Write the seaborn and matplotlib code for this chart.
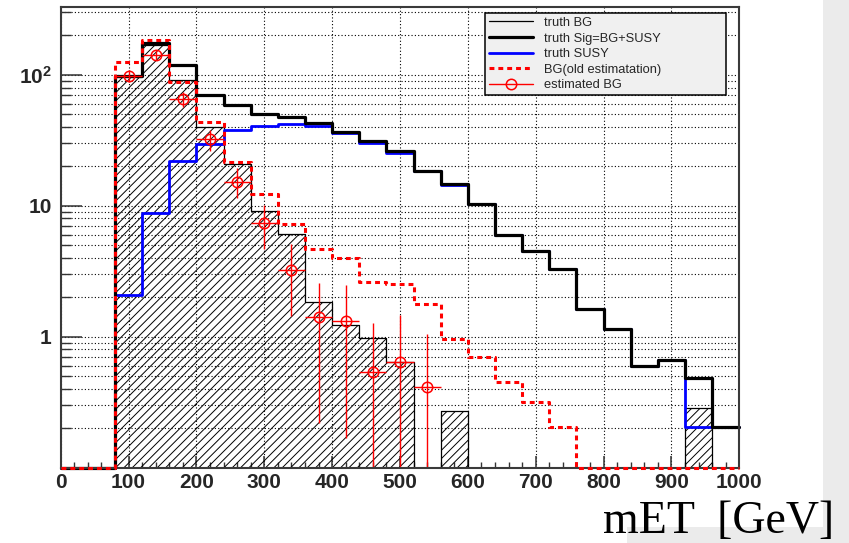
import numpy as np
import pandas as pd
import matplotlib
matplotlib.use("Agg")
import matplotlib.pyplot as plt
import seaborn as sns
from matplotlib.lines import Line2D
from matplotlib.patches import Rectangle
from matplotlib.ticker import FixedLocator, MultipleLocator, NullFormatter

# ---------------- data ----------------
bin_edges = list(range(0, 1001, 40))          # 25 bins of 40 GeV
truth_sig = [0, 0, 98, 176, 118, 69.7, 58.9, 50.3, 47.7, 42.7, 36.9, 31, 26,
             18.6, 14.8, 10.25, 5.95, 4.52, 3.28, 1.62, 1.14, 0.60, 0.67, 0.484, 0.203]
truth_susy = [0, 0, 2.08, 8.75, 22, 29.9, 38.2, 40.9, 42.2, 40.9, 35.7, 30, 25.4,
              18.6, 14.5, 10.25, 5.95, 4.52, 3.28, 1.62, 1.14, 0.60, 0.67, 0.203, 0.203]
truth_bg = [0, 0, 96, 168, 92, 40, 21, 9.1, 6.05, 1.85, 1.23, 0.97, 0.64,
            0, 0.273, 0, 0, 0, 0, 0, 0, 0, 0, 0.288, 0]
bg_old = [0, 0, 125, 183, 88, 43.7, 21.7, 12.4, 7.2, 4.65, 3.97, 2.64, 2.52,
          1.77, 0.96, 0.70, 0.45, 0.32, 0.203, 0, 0, 0, 0, 0, 0]

est_x = [100, 140, 180, 220, 260, 300, 340, 380, 420, 460, 500, 540]
est_val = [98, 142, 65.5, 32.4, 15.3, 7.34, 3.24, 1.41, 1.32, 0.536, 0.64, 0.416]
est_err_up = [10, 12, 8, 5.7, 4.0, 2.8, 1.84, 1.15, 1.16, 0.73, 0.82, 0.63]
est_err_dn = [10, 12, 8.6, 6.3, 3.8, 2.7, 1.79, 1.19, 1.15, 0.536, 0.64, 0.416]
est_xerr = 20

x_ticks = [0, 100, 200, 300, 400, 500, 600, 700, 800, 900, 1000]
y_ticks = [1, 10, 100]
y_tick_labels = ["1", "10", r"$\mathbf{10^{2}}$"]
y_minor = [0.2, 0.3, 0.4, 0.5, 0.6, 0.7, 0.8, 0.9, 2, 3, 4, 5, 6, 7, 8, 9,
           20, 30, 40, 50, 60, 70, 80, 90, 200, 300]
legend_labels = ["truth BG", "truth Sig=BG+SUSY", "truth SUSY",
                 "BG(old estimatation)", "estimated BG"]
x_label = "mET  [GeV]"

YMIN, YMAX = 0.1, 328
XMIN, XMAX = 0, 1000

# ---------------- style ----------------
sns.set_theme(style="white")
plt.rcParams["font.family"] = ["Liberation Sans", "DejaVu Sans"]
plt.rcParams["mathtext.fontset"] = "custom"
plt.rcParams["mathtext.bf"] = "Liberation Sans:bold"
plt.rcParams["mathtext.rm"] = "Liberation Sans"
plt.rcParams["hatch.color"] = "#222222"
plt.rcParams["hatch.linewidth"] = 0.7

fig = plt.figure(figsize=(8.49, 5.43), dpi=100)
fig.patch.set_facecolor("white")
# light grey slide background pieces (right strip and bottom-right)
fig.patches.append(Rectangle((823 / 849, 0), 1 - 823 / 849, 1, transform=fig.transFigure,
                             facecolor="#ebebeb", edgecolor="none", zorder=-5))
fig.patches.append(Rectangle((627 / 849, 0), 1 - 627 / 849, 16 / 543, transform=fig.transFigure,
                             facecolor="#ebebeb", edgecolor="none", zorder=-5))

ax = fig.add_axes([60.7 / 849, 1 - 467.7 / 543, 678.6 / 849, 460.4 / 543])
ax.set_facecolor("white")
ax.set_yscale("log")

centers = [(a + b) / 2 for a, b in zip(bin_edges[:-1], bin_edges[1:])]
df = pd.DataFrame({
    "center": centers,
    "sig": truth_sig,
    "susy": truth_susy,
    "bg": truth_bg,
    "old": bg_old,
})
# ROOT draws empty bins at the bottom of the frame
floor = lambda s: np.clip(np.asarray(s, dtype=float), YMIN, None)
df["sig_d"] = floor(df["sig"])
df["susy_d"] = floor(df["susy"])
df["old_d"] = floor(df["old"])

# hatched truth BG
sns.histplot(data=df, x="center", weights="bg", bins=bin_edges, element="step", fill=True,
             color="black", facecolor="none", edgecolor="black", linewidth=0.9,
             hatch="////", ax=ax, zorder=2)
# truth SUSY
sns.histplot(data=df, x="center", weights="susy_d", bins=bin_edges, element="step", fill=False,
             color="#0000ff", linewidth=2.0, ax=ax, zorder=3, clip_on=False)
# truth Sig
sns.histplot(data=df, x="center", weights="sig_d", bins=bin_edges, element="step", fill=False,
             color="black", linewidth=2.3, ax=ax, zorder=4, clip_on=False)
# old estimation
sns.histplot(data=df, x="center", weights="old_d", bins=bin_edges, element="step", fill=False,
             color="#ff0000", linewidth=2.2, linestyle=(0, (1.6, 1.3)), ax=ax, zorder=12,
             clip_on=False)
# estimated BG points
ax.errorbar(est_x, est_val, yerr=[est_err_dn, est_err_up], xerr=est_xerr, fmt="o",
            color="#ff0000", ecolor="#ff0000", elinewidth=1.0, capsize=0,
            markersize=7.5, markerfacecolor="none", markeredgecolor="#ff0000",
            markeredgewidth=1.1, zorder=6)

ax.set_xlim(XMIN, XMAX)
ax.set_ylim(YMIN, YMAX)
ax.set_xlabel("")
ax.set_ylabel("")

# ticks
ax.set_xticks(x_ticks, labels=[str(t) for t in x_ticks], fontweight="bold", fontsize=15)
ax.xaxis.set_minor_locator(MultipleLocator(20))
ax.set_yticks(y_ticks, labels=y_tick_labels, fontweight="bold", fontsize=15)
ax.yaxis.set_minor_locator(FixedLocator(y_minor))
ax.yaxis.set_minor_formatter(NullFormatter())
ax.tick_params(axis="x", which="major", direction="in", length=9, width=1.1,
               color="#333333", pad=4, bottom=True, top=False)
ax.tick_params(axis="x", which="minor", direction="in", length=4.5, width=1.0,
               color="#333333", bottom=True, top=False)
ax.tick_params(axis="y", which="major", direction="in", length=15, width=1.1,
               color="#333333", pad=6.5, left=True, right=False)
ax.tick_params(axis="y", which="minor", direction="in", length=7.5, width=1.0,
               color="#333333", left=True, right=False)

# grid
grid_style = dict(color="black", linestyle=(0, (1, 2)), linewidth=0.8)
ax.yaxis.grid(True, which="both", **grid_style)
ax.xaxis.grid(True, which="major", **grid_style)
ax.xaxis.grid(False, which="minor")
ax.set_axisbelow(True)

for s in ax.spines.values():
    s.set_color("#3a3a3a")
    s.set_linewidth(1.5)
    s.set_zorder(10)

# legend
handles = [
    Line2D([], [], color="black", linewidth=0.9),
    Line2D([], [], color="black", linewidth=2.3),
    Line2D([], [], color="#0000ff", linewidth=2.0),
    Line2D([], [], color="#ff0000", linewidth=2.2, linestyle=(0, (1.6, 1.3))),
    Line2D([], [], color="#ff0000", linewidth=1.0, marker="o", markersize=7.5,
           markerfacecolor="none", markeredgecolor="#ff0000", markeredgewidth=1.1),
]
leg = ax.legend(handles, legend_labels, loc="upper left",
                bbox_to_anchor=(0.6253, 0.8095, 0.3545, 0.178), mode="expand",
                borderaxespad=0, fontsize=9.3, frameon=True, fancybox=False,
                facecolor="#f0f0f0", edgecolor="black", framealpha=1,
                handlelength=3.4, handletextpad=0.9, borderpad=0.3, labelspacing=0.27)
leg.get_frame().set_linewidth(1.1)
leg.set_zorder(20)

fig.text(603 / 849, 10 / 543, x_label, fontfamily="Liberation Serif", fontsize=33,
         ha="left", va="baseline", color="black")

fig.savefig("out.png", dpi=100)
